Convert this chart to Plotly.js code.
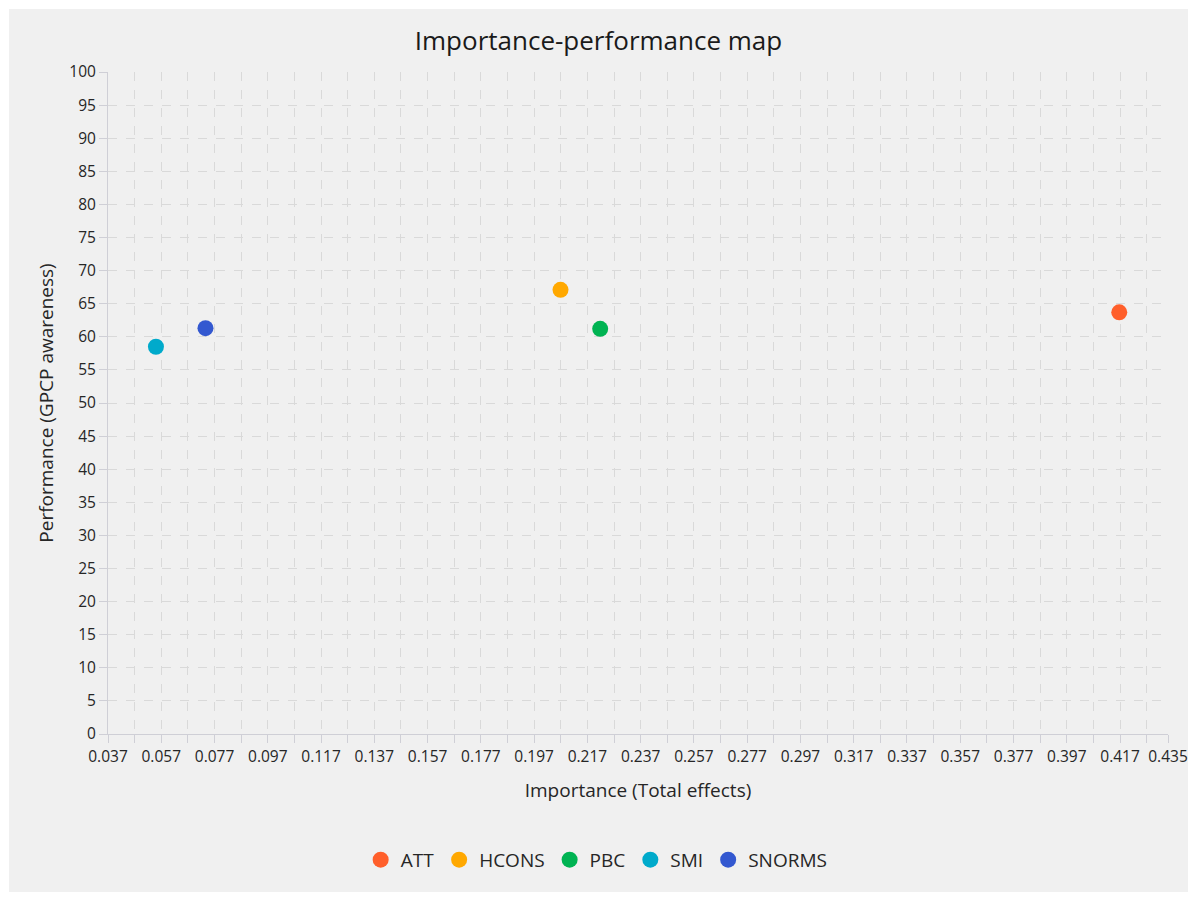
<!DOCTYPE html>
<html>
<head>
<meta charset="utf-8">
<script src="https://cdn.plot.ly/plotly-3.0.1.min.js"></script>
<style>
  html, body { margin: 0; padding: 0; background: #ffffff; }
  #chart { position: absolute; left: 9px; top: 9px; width: 1179px; height: 883px; }
</style>
</head>
<body>
<div id="chart"></div>
<script>
  // Constructs plotted on the importance-performance map
  var constructs = ['ATT', 'HCONS', 'PBC', 'SMI', 'SNORMS'];
  var importance = [0.4167, 0.2069, 0.2218, 0.0550, 0.0736];
  var performance = [63.7, 67.1, 61.2, 58.5, 61.3];
  var colors = ['#ff5f2b', '#ffa800', '#00b352', '#00aacb', '#3358d0'];

  // x ticks every 0.01, labelled every 0.02, plus the axis end
  var xTickVals = [0.037, 0.047, 0.057, 0.067, 0.077, 0.087, 0.097, 0.107, 0.117, 0.127,
    0.137, 0.147, 0.157, 0.167, 0.177, 0.187, 0.197, 0.207, 0.217, 0.227,
    0.237, 0.247, 0.257, 0.267, 0.277, 0.287, 0.297, 0.307, 0.317, 0.327,
    0.337, 0.347, 0.357, 0.367, 0.377, 0.387, 0.397, 0.407, 0.417, 0.427, 0.435];
  var xTickText = ['0.037', '', '0.057', '', '0.077', '', '0.097', '', '0.117', '',
    '0.137', '', '0.157', '', '0.177', '', '0.197', '', '0.217', '',
    '0.237', '', '0.257', '', '0.277', '', '0.297', '', '0.317', '',
    '0.337', '', '0.357', '', '0.377', '', '0.397', '', '0.417', '', '0.435'];

  var FONT = 'Open Sans, Noto Sans, sans-serif';
  var TEXT = '#262626';

  var traces = constructs.map(function (name, i) {
    return {
      type: 'scatter',
      mode: 'markers',
      name: name,
      x: [importance[i]],
      y: [performance[i]],
      marker: { color: colors[i], size: 16 },
      hovertemplate: name + '<br>%{x:.3f}, %{y:.1f}<extra></extra>'
    };
  });

  var layout = {
    width: 1179,
    height: 883,
    paper_bgcolor: '#f0f0f0',
    plot_bgcolor: '#f0f0f0',
    font: { family: FONT, color: TEXT, size: 14 },
    margin: { l: 99, r: 20, t: 63, b: 158 },
    title: {
      text: 'Importance-performance map',
      font: { size: 26, color: '#1a1a1a', family: FONT },
      x: 0.5, xanchor: 'center',
      y: 1 - 32 / 883, yanchor: 'middle', yref: 'container'
    },
    xaxis: {
      range: [0.037, 0.435],
      tickmode: 'array',
      tickvals: xTickVals,
      ticktext: xTickText,
      ticks: 'outside',
      ticklen: 8,
      tickcolor: '#cfcfd6',
      tickfont: { size: 15.5, color: TEXT },
      showgrid: true,
      gridcolor: '#d9d9d9',
      griddash: 'dash',
      showline: true,
      linecolor: '#cfcfd6',
      linewidth: 1,
      zeroline: false,
      title: {
        text: 'Importance (Total effects)',
        font: { size: 19, color: TEXT },
        standoff: 18
      }
    },
    yaxis: {
      range: [0, 100],
      tick0: 0,
      dtick: 5,
      ticks: 'outside',
      ticklen: 8,
      tickcolor: '#cfcfd6',
      tickfont: { size: 15.5, color: TEXT },
      showgrid: true,
      gridcolor: '#d9d9d9',
      griddash: 'dash',
      showline: true,
      linecolor: '#cfcfd6',
      linewidth: 1,
      zeroline: false,
      title: {
        text: 'Performance (GPCP awareness)',
        font: { size: 19, color: TEXT },
        standoff: 10
      }
    },
    showlegend: true,
    legend: {
      orientation: 'h',
      x: 0.461, xanchor: 'center',
      y: -0.19, yanchor: 'middle',
      font: { size: 19, color: TEXT },
      bgcolor: 'rgba(0,0,0,0)',
      itemwidth: 30
    }
  };

  Plotly.newPlot('chart', traces, layout, { displayModeBar: false, responsive: false });
</script>
</body>
</html>
